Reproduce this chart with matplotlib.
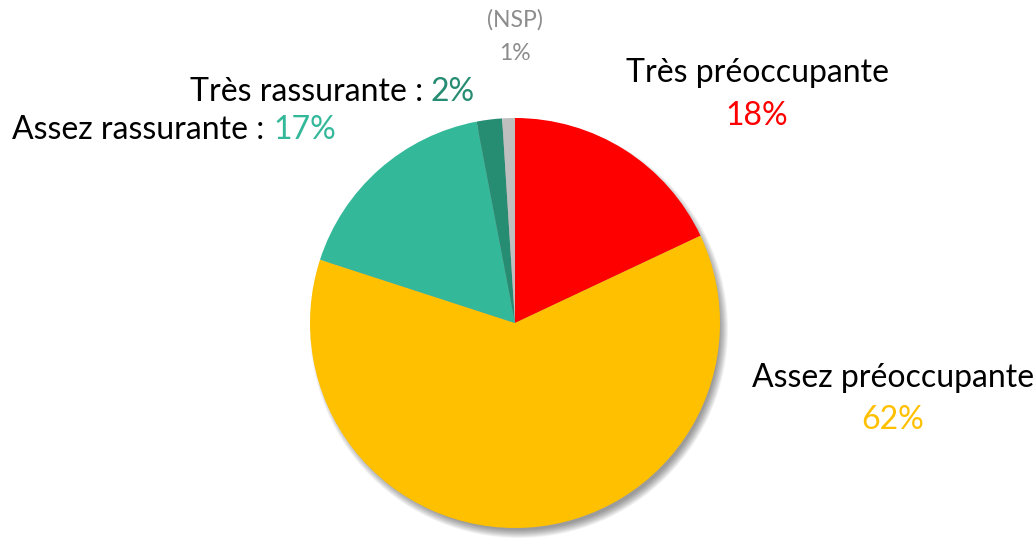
import matplotlib.pyplot as plt
from matplotlib.patches import Circle

labels = ['Très préoccupante', 'Assez préoccupante', 'Assez rassurante', 'Très rassurante', '(NSP)']
values = [18, 62, 17, 2, 1]
colors = ['#FF0000', '#FFC000', '#34B89A', '#268C72', '#BFBFBF']

plt.rcParams['font.family'] = ['Lato', 'DejaVu Sans']

W, H = 1036, 541
fig = plt.figure(figsize=(W / 100, H / 100), dpi=100)
ax = fig.add_axes([0, 0, 1, 1])

cx, cy, r = 515, H - 323, 205

# soft shadow (bottom right)
for i in range(9):
    ax.add_patch(Circle((cx + 4, cy - 6), r + 4 - i, color='#000000', alpha=0.05, lw=0, zorder=1))

ax.pie(values, colors=colors, startangle=90, counterclock=False,
       center=(cx, cy), radius=r, wedgeprops=dict(lw=0, zorder=2), frame=True)
ax.set_xlim(0, W)
ax.set_ylim(0, H)
ax.set_aspect('equal')
ax.axis('off')

fs = 23
# NSP
ax.text(515, H - 20, labels[4], ha='center', va='center', fontsize=16.5, color='#8C8C8C')
ax.text(515, H - 53, f'{values[4]}%', ha='center', va='center', fontsize=16.5, color='#8C8C8C')
# Très préoccupante
ax.text(757, H - 73, labels[0], ha='center', va='center', fontsize=fs, color='black')
ax.text(757, H - 116, f'{values[0]}%', ha='center', va='center', fontsize=fs, color=colors[0])
# Assez préoccupante
ax.text(893, H - 378, labels[1], ha='center', va='center', fontsize=fs, color='black')
ax.text(893, H - 420, f'{values[1]}%', ha='center', va='center', fontsize=fs, color=colors[1])
# Très rassurante
ax.text(431, H - 92, labels[3] + ' : ', ha='right', va='center', fontsize=fs, color='black')
ax.text(431, H - 92, f'{values[3]}%', ha='left', va='center', fontsize=fs, color=colors[3])
# Assez rassurante
ax.text(273, H - 130, labels[2] + ' : ', ha='right', va='center', fontsize=fs, color='black')
ax.text(273, H - 130, f'{values[2]}%', ha='left', va='center', fontsize=fs, color=colors[2])

fig.savefig('out.png', dpi=100)
